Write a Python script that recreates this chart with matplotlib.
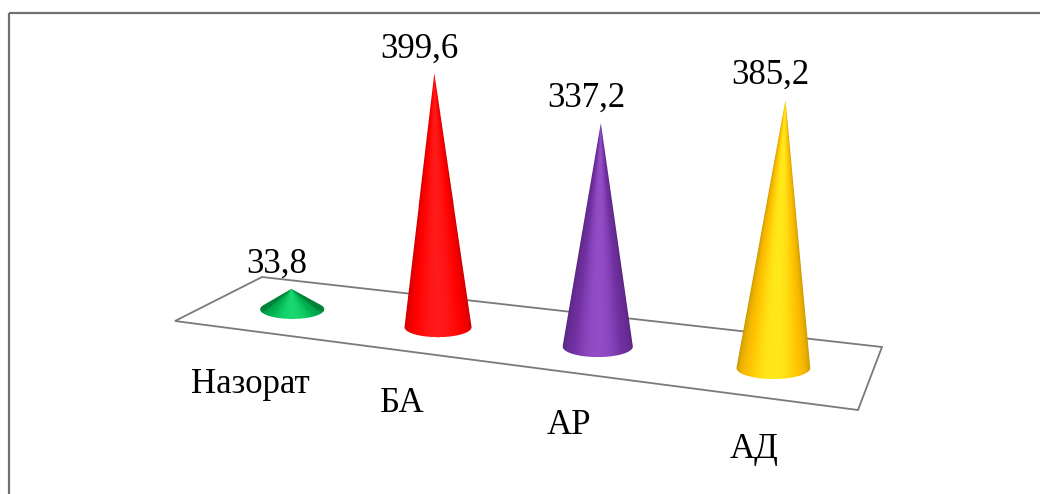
import numpy as np
import matplotlib
matplotlib.use("Agg")
import matplotlib.pyplot as plt
from matplotlib.patches import Polygon, Rectangle
from matplotlib.path import Path
from matplotlib.colors import to_rgb

# ---- data -------------------------------------------------------------
categories = ["Назорат", "БА", "АР", "АД"]
values = [33.8, 399.6, 337.2, 385.2]
value_labels = ["33,8", "399,6", "337,2", "385,2"]
colors = ["#00B050", "#FF0000", "#7030A0", "#FFC000"]

# ---- figure -----------------------------------------------------------
W, H = 1040, 494
fig = plt.figure(figsize=(W / 100, H / 100), dpi=100)
ax = fig.add_axes([0, 0, 1, 1])
ax.set_xlim(0, W)
ax.set_ylim(H, 0)
ax.axis("off")

plt.rcParams["font.family"] = ["Liberation Serif", "DejaVu Serif"]
FS = 25

# chart frame (runs off the right and bottom edges)
ax.add_patch(Rectangle((9, 13), 1200, 700, fill=False, ec="#707070", lw=1.6))

# ---- floor in perspective: (u, v) unit square -> screen ----------------
floor_uv = [(0, 0), (1, 0), (1, 1), (0, 1)]
floor_px = [(262, 277), (882, 347), (858, 410), (175, 321)]


def homography(src, dst):
    A, b = [], []
    for (u, v), (x, y) in zip(src, dst):
        A.append([u, v, 1, 0, 0, 0, -u * x, -v * x]); b.append(x)
        A.append([0, 0, 0, u, v, 1, -u * y, -v * y]); b.append(y)
    h = np.linalg.solve(np.array(A, float), np.array(b, float))
    return np.append(h, 1.0).reshape(3, 3)


Hm = homography(floor_uv, floor_px)


def project(u, v):
    p = Hm @ np.array([u, v, 1.0])
    return p[0] / p[2], p[1] / p[2], p[2]


ax.add_patch(Polygon(floor_px, closed=True, fc="white", ec="#7a7a7a", lw=1.3, zorder=1))


def convex_hull(points):
    pts = sorted(map(tuple, points))

    def cross(o, a, b):
        return (a[0] - o[0]) * (b[1] - o[1]) - (a[1] - o[1]) * (b[0] - o[0])

    lower, upper = [], []
    for p in pts:
        while len(lower) >= 2 and cross(lower[-2], lower[-1], p) <= 0:
            lower.pop()
        lower.append(p)
    for p in reversed(pts):
        while len(upper) >= 2 and cross(upper[-2], upper[-1], p) <= 0:
            upper.pop()
        upper.append(p)
    return np.array(lower[:-1] + upper[:-1])


def cone_colour(rgb, f):
    """f = 0 at the silhouette edges, 1 where the cone faces the light."""
    base = np.array(rgb)
    dark = base * 0.74
    light = np.clip(base * 1.2, 0, 1)
    light = light + (1 - light) * 0.10
    f = f[..., None]
    lo = dark + (base - dark) * np.clip(f / 0.7, 0, 1) ** 0.8
    hi = base + (light - base) * np.clip((f - 0.7) / 0.3, 0, 1) ** 1.3
    return np.where(f < 0.7, lo, hi)


def draw_cone(cx, cy, a, b, tx, ty, rgb, z, ss=4, light=np.pi / 2):
    h = cy - ty
    th = np.linspace(0, 2 * np.pi, 721)
    ring = np.c_[cx + a * np.cos(th), cy + b * np.sin(th)]
    hull = convex_hull(np.vstack([ring, [[tx, ty]]]))
    path = Path(np.vstack([hull, hull[:1]]), closed=True)
    x0, x1 = int(np.floor(hull[:, 0].min())) - 1, int(np.ceil(hull[:, 0].max())) + 1
    y0, y1 = int(np.floor(hull[:, 1].min())) - 1, int(np.ceil(hull[:, 1].max())) + 1
    xs = x0 + (np.arange((x1 - x0) * ss) + 0.5) / ss
    ys = y0 + (np.arange((y1 - y0) * ss) + 0.5) / ss
    X, Y = np.meshgrid(xs, ys)
    inside = path.contains_points(np.c_[X.ravel(), Y.ravel()]).reshape(X.shape)
    # locate each sample on the front surface: height fraction t and angle theta
    t = np.clip((cy - Y) / h, 0, 0.999)
    for _ in range(8):
        r = 1 - t
        c = np.clip((X - (cx + (tx - cx) * t)) / (a * r), -1, 1)
        s = np.sqrt(1 - c ** 2)
        t = np.clip((cy + b * s - Y) / (h + b * s), 0, 0.999)
    theta = np.arctan2(s, c)
    f = np.clip(np.cos(theta - light), 0, 1)
    col = cone_colour(rgb, f)
    alpha = inside.astype(float)
    rgba = np.concatenate([col * alpha[..., None], alpha[..., None]], axis=-1)
    ny, nx = (y1 - y0), (x1 - x0)
    rgba = rgba.reshape(ny, ss, nx, ss, 4).mean(axis=(1, 3))
    a_ = rgba[..., 3:4]
    rgba[..., :3] = np.where(a_ > 0, rgba[..., :3] / np.maximum(a_, 1e-9), 0)
    ax.imshow(rgba, extent=(x0, x1, y1, y0), origin="upper",
              interpolation="nearest", aspect="auto", zorder=z)


# ---- cones --------------------------------------------------------------
n = len(values)
u_start, u_step = 0.137, 0.246
u_pos = [u_start + i * u_step for i in range(n)]
v_pos = 0.55
_, _, w_ref = project(u_pos[1], v_pos)
px_per_unit = 0.633        # vertical pixels per data unit at the reference depth
radius = 33.5              # base radius in pixels at the reference depth
flat = 0.30                # ellipse flattening of the base
lean_len, lean_x0 = 5600.0, 520.0

for i, (val, col, lab) in enumerate(zip(values, colors, value_labels)):
    cx, cy, w = project(u_pos[i], v_pos)
    s = w_ref / w
    a = radius * s
    b = a * flat
    h = val * px_per_unit * s
    tx = cx + (cx - lean_x0) * h / lean_len
    ty = cy - h
    draw_cone(cx, cy, a, b, tx, ty, to_rgb(col), z=3 + i)
    ax.annotate(lab, (tx, ty), xytext=(-15 * 0.72, 16 * 0.72),
                textcoords="offset points", ha="center", va="baseline",
                fontsize=FS, color="black", zorder=10)

ax.set_xlim(0, W)
ax.set_ylim(H, 0)

# ---- category labels in front of the floor ---------------------------------
for i, cat in enumerate(categories):
    fx, fy, _ = project(u_pos[i], 1.0)
    ax.annotate(cat, (fx, fy), xytext=(-3 * 0.72, -53 * 0.72),
                textcoords="offset points", ha="center", va="center",
                fontsize=FS, color="black")

fig.savefig("out.png", dpi=100)
